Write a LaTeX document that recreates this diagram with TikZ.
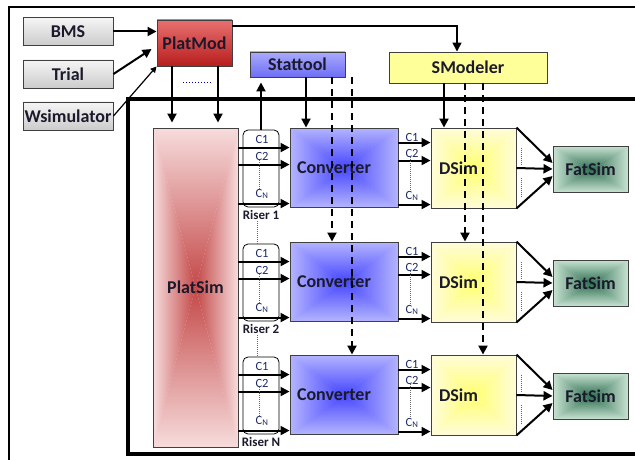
\documentclass[tikz,border=0pt]{standalone}
\usepackage{fontspec}
\setmainfont{Carlito}
\usetikzlibrary{arrows.meta,positioning}

\definecolor{boxline}{HTML}{404040}
\definecolor{labtext}{HTML}{1A1A2C}
\definecolor{clabtext}{HTML}{1C2A66}
\definecolor{platmodtop}{HTML}{E87070}
\definecolor{platmodbot}{HTML}{B81E1E}
\definecolor{stattop}{HTML}{AAAAFF}
\definecolor{statbot}{HTML}{6E6EF5}
\definecolor{smodfill}{HTML}{FFFF99}
\definecolor{simedge}{HTML}{F7DCDC}
\definecolor{simmid}{HTML}{C44848}
\definecolor{convedge}{HTML}{B4B4FF}
\definecolor{convmid}{HTML}{4646FF}
\definecolor{dsimedge}{HTML}{FFFCDA}
\definecolor{dsimmid}{HTML}{FFFF70}
\definecolor{fatedge}{HTML}{C8E2D2}
\definecolor{fatmid}{HTML}{2E6E50}

\tikzset{
  box/.style={draw=boxline, line width=0.9pt, inner sep=0pt, text=labtext,
    font=\fontsize{18}{20}\selectfont\bfseries},
  srcbox/.style={box, top color=gray!8, bottom color=gray!40,
    minimum width=90pt, minimum height=28pt},
  glow/.style 2 args={path picture={
    \fill[#1] (path picture bounding box.north west) rectangle (path picture bounding box.south east);
    \shade[left color=#1, right color=#2] (path picture bounding box.north west) -- (path picture bounding box.center) -- (path picture bounding box.south west) -- cycle;
    \shade[left color=#2, right color=#1] (path picture bounding box.north east) -- (path picture bounding box.center) -- (path picture bounding box.south east) -- cycle;
    \shade[top color=#1, bottom color=#2] (path picture bounding box.north west) -- (path picture bounding box.center) -- (path picture bounding box.north east) -- cycle;
    \shade[top color=#2, bottom color=#1] (path picture bounding box.south west) -- (path picture bounding box.center) -- (path picture bounding box.south east) -- cycle;
  }},
  convbox/.style={box, glow={convedge}{convmid}, minimum width=108pt, minimum height=79pt,
    text width=94pt, inner xsep=7pt, align=left},
  dsimbox/.style={box, glow={dsimedge}{dsimmid}, minimum width=85pt,
    minimum height=80pt, text width=69pt, inner xsep=8pt, align=left},
  fatbox/.style={box, glow={fatedge}{fatmid}, minimum width=75pt, minimum height=46pt},
  riserbox/.style={draw, line width=0.8pt, rounded corners=5pt, minimum width=36pt, minimum height=77pt},
  clab/.style={font=\fontsize{12.5}{13}\selectfont, text=clabtext, inner sep=0pt},
  risertext/.style={font=\fontsize{13}{14}\selectfont\bfseries, text=labtext, inner sep=1pt},
  bus/.style={line width=2pt, -{Triangle[length=9pt,width=9pt]}},
  dashbus/.style={bus, dash pattern=on 7pt off 5pt},
  dotline/.style={gray!80!black, densely dotted, line width=1pt}
}

\begin{document}
\begin{tikzpicture}[x=1pt, y=-1pt]
\useasboundingbox (0,0) rectangle (635,460);
% frames
\draw[line width=1.5pt] (9,460) -- (9,7) -- (635,7);
\draw[line width=4pt] (635,99.5) -- (127.5,99.5) -- (127.5,454) -- (635,454);

% top row
\node[srcbox] (bms) at (68,31.5) {BMS};
\node[srcbox] (trial) at (68,74) {Trial};
\node[srcbox] (wsim) at (68,116) {Wsimulator};
\node[box, top color=platmodtop, bottom color=platmodbot, minimum width=75pt, minimum height=46pt] (platmod) at (194.5,43) {PlatMod};
\node[box, top color=stattop, bottom color=statbot, minimum width=95pt, minimum height=25pt] (stattool) at (297.5,64.5) {Stattool};
\node[box, fill=smodfill, minimum width=158pt, minimum height=31pt] (smodeler) at (468,67.5) {SModeler};
\node[box, glow={simedge}{simmid}, minimum width=85pt, minimum height=319pt] (platsim) at (195.5,287.5) {PlatSim};

% one row per riser
\foreach \r/\top/\n in {1/128/1, 2/242/2, 3/355/N} {
  \node[riserbox] (riser\r) at (261,\top+40.5) {};
  \node[risertext, below=2pt of riser\r] (rlab\r) {Riser \n};
  \node[clab] (ci1\r) at (262,\top+11) {C1};
  \node[clab] (ci2\r) at (262,\top+28) {C2};
  \node[clab] (cin\r) at (262,\top+66) {C\textsubscript{N}};
  \node[convbox] (conv\r) at (344,\top+39.5) {Converter};
  \node[dsimbox] (dsim\r) at (473.5,\top+40) {DSim};
  \node[fatbox] (fat\r) at (590.5,\top+41) {FatSim};
  \node[clab] (co1\r) at (412,\top+9) {C1};
  \node[clab] (co2\r) at (412,\top+25) {C2};
  \node[clab] (con\r) at (412,\top+68) {C\textsubscript{N}};
  \foreach \d in {20,37,76} {
    \coordinate (in) at ([yshift=-\d pt]conv\r.north west);
    \draw[bus] (platsim.east |- in) -- (in);
  }
  \foreach \d in {15,33,77} {
    \coordinate (out) at ([yshift=-\d pt]conv\r.north east);
    \draw[bus] (out) -- (out -| dsim\r.west);
  }
  \draw[dotline] ([xshift=-3pt]ci2\r.south) -- ([xshift=-3pt]cin\r.north);
  \draw[dotline] ([xshift=-2pt]co2\r.south) -- ([xshift=-2pt]con\r.north);
  \draw[bus] (dsim\r.north east) -- ([yshift=6pt]fat\r.west);
  \draw[bus] (dsim\r.east) -- (fat\r.west);
  \draw[bus] (dsim\r.south east) -- ([yshift=-7pt]fat\r.west);
  \draw[dotline] ([xshift=5pt,yshift=-20pt]dsim\r.north east) -- ++(0,17);
  \draw[dotline] ([xshift=5pt,yshift=-50pt]dsim\r.north east) -- ++(0,20);
}
\draw[dotline] ([xshift=-4pt]rlab1.south) -- ([xshift=-4pt]riser2.north);
\draw[dotline] ([xshift=-4pt]rlab2.south) -- ([xshift=-4pt]riser3.north);

% inputs of PlatMod
\draw[bus] (bms.east) -- (bms.east -| platmod.west);
\draw[bus] (trial.east) -- ([xshift=-5pt,yshift=-6pt]platmod.west);
\draw[line width=1.2pt, -{Triangle[length=6pt,width=6pt]}] (wsim.east) -- (platmod.south west);
\coordinate (pm1) at ([xshift=-22.5pt]platmod.south);
\coordinate (pm2) at ([xshift=23.5pt]platmod.south);
\draw[bus, shorten >=5pt] (pm1) -- (pm1 |- platsim.north);
\draw[bus, shorten >=5pt] (pm2) -- (pm2 |- platsim.north);
\draw[blue!70!black, dotted, line width=1pt] (183,83) -- (211,83);
\coordinate (sm0) at ([xshift=-11pt]smodeler.north);
\draw[bus, line width=1.5pt] ([yshift=17pt]platmod.east) -| (sm0);

% Stattool
\coordinate (st0) at ([xshift=8.5pt]stattool.south);
\coordinate (st1) at ([xshift=34.5pt]stattool.south);
\coordinate (st2) at ([xshift=54.5pt]stattool.south);
\draw[bus] (st0) -- (st0 |- conv1.north);
\draw[dashbus] (st1) -- (st1 |- conv2.north);
\draw[dashbus] (st2) -- (st2 |- conv3.north);
\draw[bus, shorten >=5pt] (riser1.north) -- (riser1.north |- stattool.south);

% SModeler
\coordinate (sm1) at ([xshift=-24pt]smodeler.south);
\coordinate (sm2) at ([xshift=-3pt]smodeler.south);
\coordinate (sm3) at ([xshift=15pt]smodeler.south);
\draw[bus] (sm1) -- (sm1 |- dsim1.north);
\draw[dashbus] (sm2) -- (sm2 |- dsim2.north);
\draw[dashbus] (sm3) -- (sm3 |- dsim3.north);
\end{tikzpicture}
\end{document}
